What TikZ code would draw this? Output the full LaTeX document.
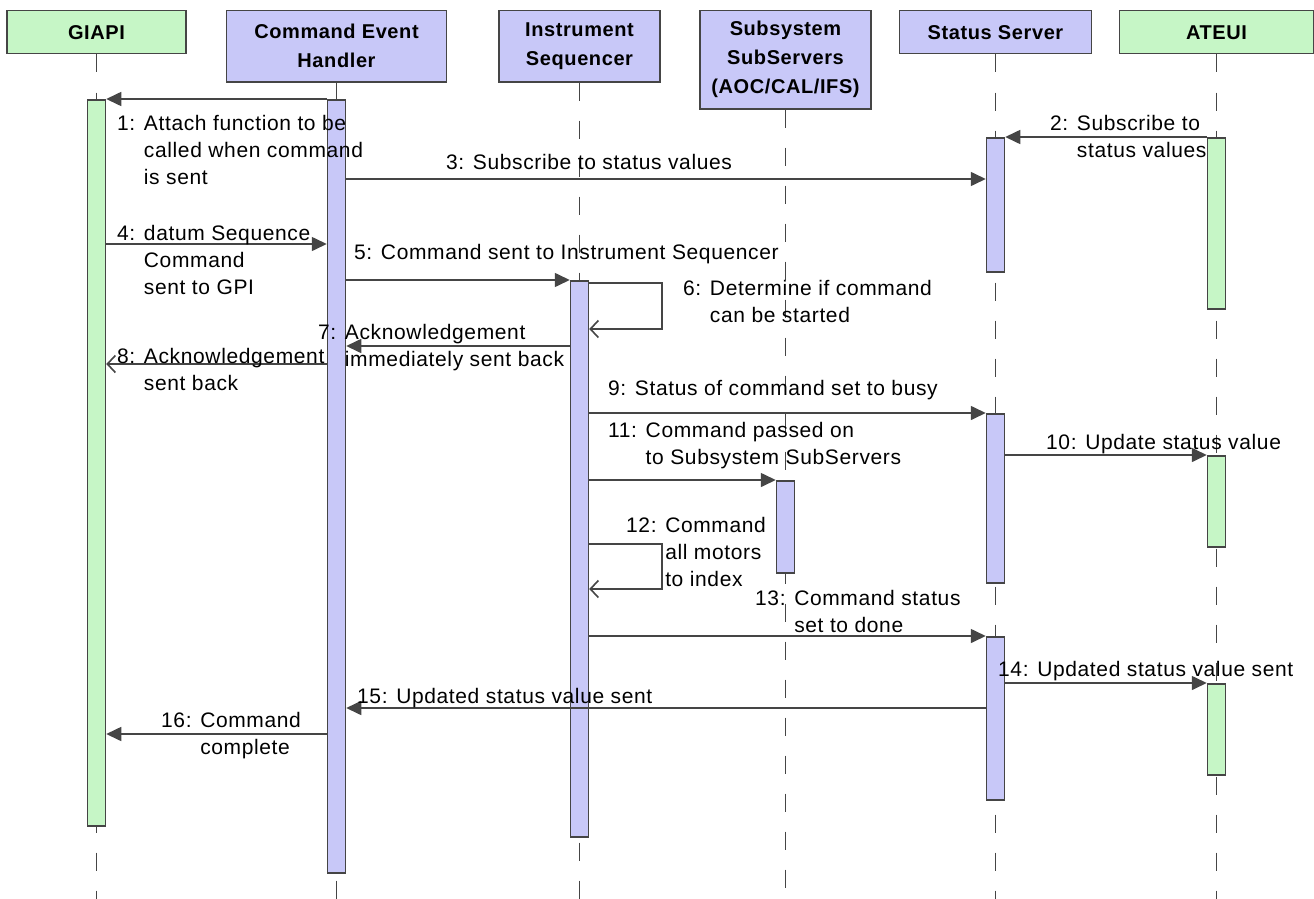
\documentclass[tikz,border=0pt]{standalone}
\usepackage{fontspec}
\setmainfont{Liberation Sans}[LetterSpace=3]
\usetikzlibrary{arrows.meta}

\definecolor{objgreen}{HTML}{C6F6C6}
\definecolor{objblue}{HTML}{C8C8F8}
\definecolor{wire}{HTML}{454545}

\tikzset{
  obj/.style={draw=wire, line width=1.5pt, align=center, inner sep=0pt, anchor=north,
    font=\fontsize{20}{29}\selectfont\bfseries},
  lifeline/.style={draw=wire, line width=1.5pt, dash pattern=on 18pt off 20pt},
  actbar/.style={draw=wire, line width=1.5pt, minimum width=18pt, inner sep=0pt, anchor=north},
  call/.style={draw=wire, line width=1.6pt, -{Triangle[length=15pt,width=14pt]}},
  reply/.style={draw=wire, line width=1.6pt, -{Straight Barb[length=8pt,width=17pt]}},
  lbl/.style={inner sep=0pt, anchor=base west, font=\fontsize{21}{27}\selectfont},
}

% activation box: name, x, top, bottom, fill
\newcommand{\actbox}[5]{%
  \pgfmathsetmacro\barlen{#4-#3}
  \node[actbar, fill=#5, minimum height=\barlen pt] (#1) at (#2,#3) {};
}
% message number followed by an indented block of lines
\newcommand{\numtext}[2]{#1: \begin{tabular}[t]{@{}l@{}}#2\end{tabular}}

\begin{document}
\begin{tikzpicture}[x=1pt,y=-1pt]
  \path[fill=white, use as bounding box] (0,0) rectangle (1314,899);
  \coordinate (bot) at (0,899);

  % objects
  \node[obj, fill=objgreen, minimum width=179pt, minimum height=43pt] (giapi) at (96.5,10) {GIAPI};
  \node[obj, fill=objblue, minimum width=220pt, minimum height=71pt] (ceh) at (336.5,10) {Command Event\\Handler};
  \node[obj, fill=objblue, minimum width=161pt, minimum height=71pt] (iseq) at (579.5,10) {Instrument\\Sequencer};
  \node[obj, fill=objblue, minimum width=171pt, minimum height=98pt] (subsys) at (785.5,10) {Subsystem\\SubServers\\(AOC/CAL/IFS)};
  \node[obj, fill=objblue, minimum width=192pt, minimum height=43pt] (stsrv) at (995.5,10) {Status Server};
  \node[obj, fill=objgreen, minimum width=194pt, minimum height=43pt] (ateui) at (1216.5,10) {ATEUI};

  % lifelines
  \foreach \o in {giapi,ceh,iseq,subsys,stsrv,ateui}
    \draw[lifeline] (\o.south) -- (\o.south |- bot);

  % activations
  \actbox{giapiA}{96.5}{99}{825}{objgreen}
  \actbox{cehA}{336.5}{99}{872}{objblue}
  \actbox{stsrvA}{995.5}{137}{271}{objblue}
  \actbox{ateuiA}{1216.5}{137}{308}{objgreen}
  \actbox{iseqA}{579.5}{280}{836}{objblue}
  \actbox{stsrvB}{995.5}{413}{582}{objblue}
  \actbox{ateuiB}{1216.5}{455}{546}{objgreen}
  \actbox{subsysA}{785.5}{480}{572}{objblue}
  \actbox{stsrvC}{995.5}{636}{799}{objblue}
  \actbox{ateuiC}{1216.5}{683}{774}{objgreen}

  % message levels
  \coordinate (m1) at (0,99);
  \coordinate (m2) at (0,137);
  \coordinate (m3) at (0,179);
  \coordinate (m4) at (0,244);
  \coordinate (m5) at (0,280);
  \coordinate (m6) at (0,283);
  \coordinate (m6b) at (0,329);
  \coordinate (m7) at (0,346);
  \coordinate (m8) at (0,364);
  \coordinate (m9) at (0,413);
  \coordinate (m10) at (0,455);
  \coordinate (m11) at (0,480);
  \coordinate (m12) at (0,544);
  \coordinate (m12b) at (0,589);
  \coordinate (m13) at (0,636);
  \coordinate (m14) at (0,683);
  \coordinate (m15) at (0,708);
  \coordinate (m16) at (0,734);

  % messages
  \draw[call] (cehA.west |- m1) -- (giapiA.east |- m1);
  \draw[call] (ateuiA.west |- m2) -- (stsrvA.east |- m2);
  \draw[call] (cehA.east |- m3) -- (stsrvA.west |- m3);
  \draw[call] (giapiA.east |- m4) -- (cehA.west |- m4);
  \draw[call] (cehA.east |- m5) -- (iseqA.west |- m5);
  \draw[reply] (iseqA.east |- m6) -- ++(73,0) |- (iseqA.east |- m6b);
  \draw[call] (iseqA.west |- m7) -- (cehA.east |- m7);
  \draw[reply] (cehA.west |- m8) -- (giapiA.east |- m8);
  \draw[call] (iseqA.east |- m9) -- (stsrvB.west |- m9);
  \draw[call] (stsrvB.east |- m10) -- (ateuiB.west |- m10);
  \draw[call] (iseqA.east |- m11) -- (subsysA.west |- m11);
  \draw[reply] (iseqA.east |- m12) -- ++(73,0) |- (iseqA.east |- m12b);
  \draw[call] (iseqA.east |- m13) -- (stsrvC.west |- m13);
  \draw[call] (stsrvC.east |- m14) -- (ateuiC.west |- m14);
  \draw[call] (stsrvC.west |- m15) -- (cehA.east |- m15);
  \draw[call] (cehA.west |- m16) -- (giapiA.east |- m16);

  % labels
  \node[lbl] (l1) at (117,130) {\numtext{1}{Attach function to be\\called when command\\is sent}};
  \node[lbl] (l2) at (1050,130) {\numtext{2}{Subscribe to\\status values}};
  \node[lbl] (l3) at (446,169) {3: Subscribe to status values};
  \node[lbl] (l4) at (117,240) {\numtext{4}{datum Sequence\\Command\\sent to GPI}};
  \node[lbl] (l5) at (354,259) {5: Command sent to Instrument Sequencer};
  \node[lbl] (l6) at (683,295) {\numtext{6}{Determine if command\\can be started}};
  \node[lbl] (l7) at (318,339) {\numtext{7}{Acknowledgement\\immediately sent back}};
  \node[lbl] (l8) at (117,363) {\numtext{8}{Acknowledgement\\sent back}};
  \node[lbl] (l9) at (608,395) {9: Status of command set to busy};
  \node[lbl] (l10) at (1046,449) {10: Update status value};
  \node[lbl] (l11) at (608,437) {\numtext{11}{Command passed on\\to Subsystem SubServers}};
  \node[lbl] (l12) at (626,532) {\numtext{12}{Command\\all motors\\to index}};
  \node[lbl] (l13) at (755,605) {\numtext{13}{Command status\\set to done}};
  \node[lbl] (l14) at (998,676) {14: Updated status value sent};
  \node[lbl] (l15) at (357,703) {15: Updated status value sent};
  \node[lbl] (l16) at (161,727) {\numtext{16}{Command\\complete}};
\end{tikzpicture}
\end{document}
